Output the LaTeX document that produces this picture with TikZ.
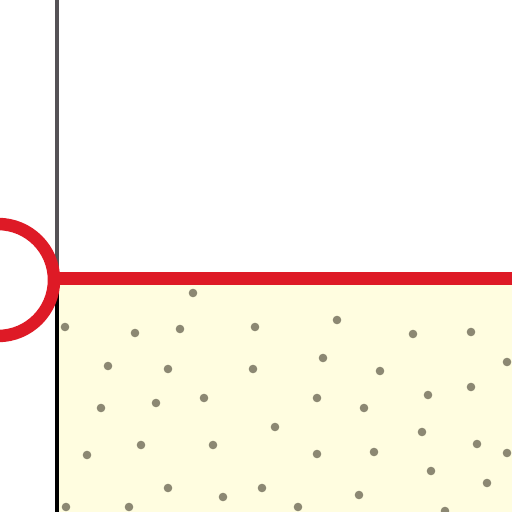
\documentclass[tikz,border=0pt]{standalone}
\definecolor{fillyellow}{RGB}{255,253,224}
\definecolor{dotgray}{RGB}{140,136,115}
\definecolor{redline}{RGB}{222,26,38}
\definecolor{axisgray}{RGB}{85,82,86}
\begin{document}
\begin{tikzpicture}[x=1pt,y=-1pt,
  dotmark/.style={fill=dotgray, draw=none},
  redstroke/.style={draw=redline, line width=12.5pt}]
\useasboundingbox (0,0) rectangle (512,512);
\fill[white] (0,0) rectangle (512,512);
% filled region
\fill[fillyellow] (59,284) rectangle (512,512);
% dots
\foreach \x/\y in {193/293,65/327,135/333,180/329,255/327,337/320,413/334,471/332,
  108/366,168/369,253/369,323/358,380/371,507/362,
  101/408,156/403,204/398,317/398,364/408,428/395,471/387,275/427,
  141/445,213/445,87/455,317/454,374/452,422/432,477/444,507/453,
  431/471,168/488,223/497,262/488,359/495,487/483,66/507,129/507,298/507,445/511}
  \fill[dotmark] (\x,\y) circle (4.3);
% vertical line
\draw[axisgray, line width=3.5pt] (57,0) -- (57,278);
\draw[black, line width=3.5pt] (57,278) -- (57,512);
% red horizontal line
\draw[redstroke] (56,278.5) -- (512,278.5);
% red circle
\draw[redstroke] (-2,280) circle (56);
\end{tikzpicture}
\end{document}
